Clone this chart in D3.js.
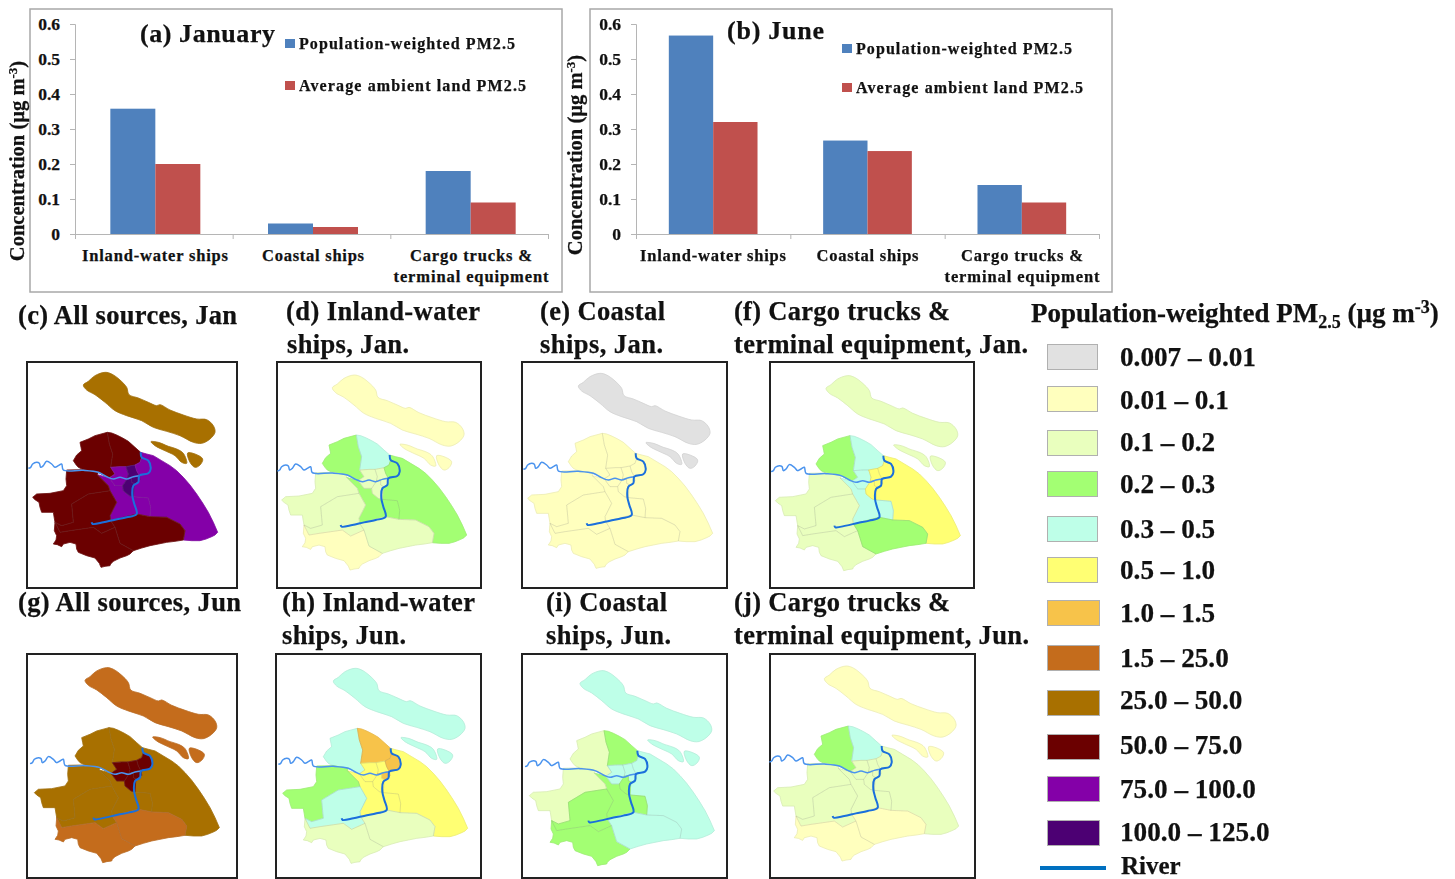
<!DOCTYPE html>
<html><head><meta charset="utf-8">
<script src="https://cdn.jsdelivr.net/npm/d3@7"></script>
<style>
html,body{margin:0;padding:0;background:#fff;overflow:hidden}
svg{display:block;filter:blur(0.45px)}
text{font-family:"Liberation Serif","Times New Roman",serif;font-weight:bold;fill:#111;stroke:#111;stroke-width:0.25px}
</style></head><body><svg id="chart" width="1455" height="879"></svg>
<script>
// ---- bar chart data
const categories=["Inland-water ships","Coastal ships","Cargo trucks &\nterminal equipment"];
const seriesNames=["Population-weighted PM2.5","Average ambient land PM2.5"];
const seriesColors=["#4f81bd","#c0504d"];
const janPopWeighted=[0.358,0.03,0.18];
const janAmbient=[0.20,0.02,0.09];
const junPopWeighted=[0.567,0.267,0.14];
const junAmbient=[0.32,0.237,0.09];
const yTicks=[0,0.1,0.2,0.3,0.4,0.5,0.6];
// ---- legend classes
const classLabels=["0.007 – 0.01","0.01 – 0.1","0.1 – 0.2","0.2 – 0.3","0.3 – 0.5","0.5 – 1.0","1.0 – 1.5","1.5 – 25.0","25.0 – 50.0","50.0 – 75.0","75.0 – 100.0","100.0 – 125.0"];
const classColors=["#e1e1e1","#ffffbe","#e9ffbe","#a3ff73","#beffe8","#ffff73","#f7c34a","#c46c1c","#a87000","#6b0000","#8400a8","#4c0073"];
// ---- district outlines (map units)
const chongming=[[190,93],[205,82],[225,65],[255,55],[275,60],[300,78],[320,100],[327,122],[355,132],[385,145],[410,155],[420,152],[450,168],[490,183],[530,195],[560,197],[580,215],[585,235],[570,255],[545,268],[520,265],[480,245],[440,232],[400,220],[365,200],[320,185],[285,170],[255,145],[225,122],[200,108]];
const changxing=[[393,263],[415,265],[445,277],[470,285],[490,298],[500,328],[485,325],[465,305],[430,288],[405,275]];
const hengsha=[[503,297],[525,300],[548,315],[540,333],[525,340],[510,325]];
const jiading=[[262,235],[225,245],[205,255],[180,265],[183,280],[185,290],[170,303],[160,320],[168,332],[175,340],[190,347],[235,355],[265,372],[285,360],[272,340],[278,300],[268,270]];
const baoshan=[[262,235],[275,237],[290,243],[308,252],[325,262],[345,280],[362,295],[365,310],[360,325],[345,333],[318,338],[300,338],[272,340],[278,300],[268,270]];
const pudong=[[362,295],[380,300],[400,305],[425,320],[450,335],[470,350],[490,370],[510,393],[530,420],[548,447],[565,475],[580,505],[593,535],[585,543],[575,548],[558,555],[540,560],[515,560],[490,558],[495,530],[480,510],[440,490],[390,488],[392,460],[385,432],[340,428],[342,395],[360,378],[358,365],[385,358],[392,345],[385,320],[365,310]];
const minhang=[[232,362],[268,372],[285,395],[308,395],[310,410],[328,425],[340,428],[385,432],[392,460],[390,488],[350,480],[272,500],[270,485],[290,445],[270,410],[265,395]];
const qingpu=[[140,348],[190,347],[235,355],[232,362],[265,395],[270,410],[205,420],[155,450],[160,505],[125,515],[105,505],[100,475],[65,475],[60,460],[57,445],[45,437],[38,430],[50,420],[90,418],[130,410],[140,395],[138,375]];
const songjiang=[[155,450],[205,420],[270,410],[290,445],[270,485],[272,500],[285,520],[245,538],[220,520],[150,530],[120,535],[105,505],[125,515],[160,505]];
const jinshan=[[105,505],[120,535],[150,530],[220,520],[245,538],[285,520],[300,568],[340,590],[330,600],[320,605],[300,612],[280,622],[272,630],[270,635],[255,637],[243,640],[238,628],[225,612],[200,605],[175,595],[170,585],[168,570],[150,565],[130,570],[125,578],[112,572],[100,570],[108,558],[110,545],[103,530]];
const fengxian=[[285,520],[272,500],[350,480],[390,488],[440,490],[480,510],[495,530],[490,558],[465,562],[440,565],[415,570],[390,575],[365,582],[340,590],[300,568]];
const putuo=[[272,340],[300,338],[318,338],[325,360],[322,372],[318,380],[308,395],[285,395],[268,372],[285,360]];
const hongkou=[[318,338],[345,333],[350,350],[358,365],[340,368],[322,372],[325,360]];
const yangpu=[[345,333],[360,325],[365,310],[385,320],[392,345],[385,358],[358,365],[350,350]];
const huangpu=[[322,372],[340,368],[358,365],[360,378],[345,390],[335,385],[335,372]];
const xuhui=[[308,395],[318,380],[322,372],[335,372],[335,385],[345,390],[342,395],[340,428],[328,425],[310,410]];
const regionShapes=[chongming,changxing,hengsha,jiading,baoshan,pudong,minhang,qingpu,songjiang,jinshan,fengxian,putuo,hongkou,yangpu,huangpu,xuhui];
const suzhouCreek=[[25,343],[32,340],[38,330],[50,325],[58,328],[62,340],[70,335],[80,322],[95,330],[105,340],[115,335],[125,330],[130,348],[190,349],[235,355],[260,368],[280,375],[300,370],[320,375],[340,368],[358,365]];
const huangpuRiver=[[362,295],[365,310],[385,320],[392,345],[385,358],[358,365],[355,385],[340,395],[337,425],[343,450],[350,480],[320,490],[285,497],[250,505],[218,510],[215,505]];
// ---- class index of each district, same order as regionShapes
const classesC=[8,8,8,9,9,10,10,9,9,9,9,10,11,10,11,11];
const classesD=[1,1,1,3,4,3,3,2,2,1,2,2,2,3,2,2];
const classesE=[0,0,0,1,1,1,1,1,1,1,1,1,1,1,1,1];
const classesF=[2,2,2,3,4,5,4,2,2,2,3,4,5,5,5,5];
const classesG=[7,7,7,8,8,8,8,8,8,7,7,9,9,9,9,9];
const classesH=[4,4,4,4,6,5,5,3,4,2,2,5,5,6,6,5];
const classesI=[4,4,4,2,3,4,3,2,3,3,4,4,4,4,4,3];
const classesJ=[1,1,1,3,4,2,2,2,2,1,1,2,2,2,2,2];

const svg=d3.select("#chart");
function label(g,str,x,y,size,width,anchor){
  const t=g.append("text").attr("x",x).attr("y",y).attr("font-size",size).attr("text-anchor",anchor||"start").text(str);
  if(width){t.attr("textLength",width).attr("lengthAdjust","spacing");}
  return t;
}
// ---- bar charts
function barChart(o){
  const g=svg.append("g");
  g.append("rect").attr("x",o.frame[0]).attr("y",9).attr("width",o.frame[1]-o.frame[0]).attr("height",283).attr("fill","#fff").attr("stroke","#a8a8a8").attr("stroke-width",1.5);
  const y=d3.scaleLinear().domain([0,0.6]).range([234,24]);
  const x0=d3.scaleBand().domain(categories).range([o.left+o.shift,o.right+o.shift]);
  const x1=d3.scaleBand().domain(seriesNames).range([0,x0.bandwidth()]).paddingInner(0).paddingOuter(o.pad);
  o.series.forEach((vals,si)=>{
    g.selectAll(null).data(vals).join("rect")
      .attr("x",(d,i)=>x0(categories[i])+x1(seriesNames[si]))
      .attr("y",d=>y(d)).attr("width",x1.bandwidth()).attr("height",d=>y(0)-y(d))
      .attr("fill",seriesColors[si]);
  });
  const ya=g.append("g").attr("transform",`translate(${o.left},0)`).call(d3.axisLeft(y).tickValues(yTicks).tickSize(5).tickFormat(d=>d===0?"0":d3.format(".1f")(d)));
  ya.select(".domain").attr("stroke","#b5b5b5");ya.selectAll("line").attr("stroke","#b5b5b5");
  ya.selectAll("text").attr("font-size",17.5).attr("x",-15).attr("dy","0.3em").style("fill","#111");
  const xl=d3.scaleLinear().domain([0,3]).range([o.left,o.right]);
  const xa=g.append("g").attr("transform",`translate(0,234)`).call(d3.axisBottom(xl).tickValues([0,1,2,3]).tickSize(5).tickFormat(""));
  xa.select(".domain").attr("stroke","#b5b5b5");xa.selectAll("line").attr("stroke","#b5b5b5");
  categories.forEach((c,i)=>{
    c.split("\n").forEach((ln,k)=>{
      label(g,ln,o.labelX[i],261+k*21,16.5,o.labelW[i][k],"middle");
    });
  });
  const yt=g.append("text").attr("transform",`translate(${o.ytx},${o.yty}) rotate(-90)`).attr("text-anchor","middle").attr("font-size",20.5);
  yt.append("tspan").text("Concentration (µg m");
  yt.append("tspan").attr("dy",-7).attr("font-size",13).text("-3");
  yt.append("tspan").attr("dy",7).text(")");
  label(g,o.title,o.titleX,o.titleY,o.titleSize,o.titleW);
  seriesNames.forEach((s,i)=>{
    g.append("rect").attr("x",o.legX).attr("y",o.legY[i]).attr("width",10).attr("height",9).attr("fill",seriesColors[i]);
    label(g,s,o.legX+14,o.legY[i]+10,16,o.legW[i]);
  });
}
barChart({frame:[30,562],left:75,right:548,shift:1.5,pad:0.752,series:[janPopWeighted,janAmbient],
  labelX:[155,313,471],labelW:[[146],[102],[122,155]],ytx:24,yty:161,title:"(a) January",titleX:140,titleY:42,titleSize:26,titleW:135,
  legX:285,legY:[39,81],legW:[216,227]});
barChart({frame:[590,1112],left:636,right:1099,shift:0,pad:0.74,series:[junPopWeighted,junAmbient],
  labelX:[713,867.5,1022],labelW:[[146],[102],[122,155]],ytx:582,yty:155,title:"(b) June",titleX:727,titleY:39,titleSize:26,titleW:97,
  legX:842,legY:[44,83],legW:[216,227]});
// ---- map panels
function mapPanel(box,ox,oy,classes){
  const g=svg.append("g");
  const mx=d3.scaleLinear().domain([0,675]).range([ox,ox+225]);
  const my=d3.scaleLinear().domain([0,675]).range([oy,oy+225]);
  const poly=d3.line().x(d=>mx(d[0])).y(d=>my(d[1]));
  const island=d3.line().x(d=>mx(d[0])).y(d=>my(d[1])).curve(d3.curveCatmullRomClosed.alpha(0.5));
  const smooth=d3.line().x(d=>mx(d[0])).y(d=>my(d[1])).curve(d3.curveCatmullRom.alpha(0.5));
  const shapePath=(d,i)=>i<3?island(d):poly(d)+"Z";
  g.append("rect").attr("x",box[0]).attr("y",box[1]).attr("width",box[2]-box[0]).attr("height",box[3]-box[1]).attr("fill","#fff").attr("stroke","#222").attr("stroke-width",2);
  g.selectAll(null).data(regionShapes).join("path")
    .attr("d",shapePath).attr("fill",(d,i)=>classColors[classes[i]])
    .attr("stroke",(d,i)=>classColors[classes[i]]).attr("stroke-width",0.8).attr("stroke-linejoin","round");
  g.selectAll(null).data(regionShapes).join("path")
    .attr("d",shapePath).attr("fill","none").attr("stroke","#777").attr("stroke-opacity",0.22).attr("stroke-width",0.5);
  g.append("path").attr("d",smooth(suzhouCreek)).attr("fill","none").attr("stroke","#4a93ee").attr("stroke-width",1.5);
  g.append("path").attr("d",smooth(huangpuRiver)).attr("fill","none").attr("stroke","#1a6fdc").attr("stroke-width",2);
}
mapPanel([27,362,237,588],20,354,classesC);
mapPanel([277,362,481,588],269,356.7,classesD);
mapPanel([522,362,727,588],515,355,classesE);
mapPanel([770,362,974,588],762.7,357.3,classesF);
mapPanel([27,654,237,878],21.7,649.3,classesG);
mapPanel([276,654,481,878],270,650,classesH);
mapPanel([522,654,727,878],516.7,652.3,classesI);
mapPanel([770,654,975,878],761,647.7,classesJ);
// ---- panel titles
const tg=svg.append("g");
[["(c) All sources, Jan",18,324,219],["(d) Inland-water",286,320,194],["ships, Jan.",287,353,122],["(e) Coastal",540,320,125],["ships, Jan.",540,353,123],["(f) Cargo trucks &",734,320,216],["terminal equipment, Jan.",734,353,294],
 ["(g) All sources, Jun",18,611,223],["(h) Inland-water",282,611,193],["ships, Jun.",282,644,124],["(i) Coastal",546,611,121],["ships, Jun.",546,644,125],["(j) Cargo trucks &",734,611,216],["terminal equipment, Jun.",734,644,295]]
 .forEach(d=>label(tg,d[0],d[1],d[2],26.5,d[3]));
// ---- legend
const lg=svg.append("g");
const lt=lg.append("text").attr("x",1031).attr("y",322).attr("font-size",27);
lt.append("tspan").text("Population-weighted PM");
lt.append("tspan").attr("dy",6).attr("font-size",18).text("2.5");
lt.append("tspan").attr("dy",-6).text(" (µg m");
lt.append("tspan").attr("dy",-9).attr("font-size",18).text("-3");
lt.append("tspan").attr("dy",9).text(")");
const swatchRows=d3.scaleOrdinal().domain(classLabels).range([357,399,443,484,529,570,613,658,703,747,789,833]);
const labelRows=d3.scaleOrdinal().domain(classLabels).range([357,400,442,484,529,570,613,658,700,745,789,832]);
classLabels.forEach((c,i)=>{
  lg.append("rect").attr("x",1047.5).attr("y",swatchRows(c)-12.5).attr("width",i>5?52:50).attr("height",25).attr("fill",classColors[i]).attr("stroke","#b0b0b0").attr("stroke-width",1);
  label(lg,c,1120,labelRows(c)+9,27.2);
});
lg.append("line").attr("x1",1040).attr("x2",1106).attr("y1",868).attr("y2",868).attr("stroke","#0070c0").attr("stroke-width",4);
label(lg,"River",1121,873.5,25);
</script></body></html>
